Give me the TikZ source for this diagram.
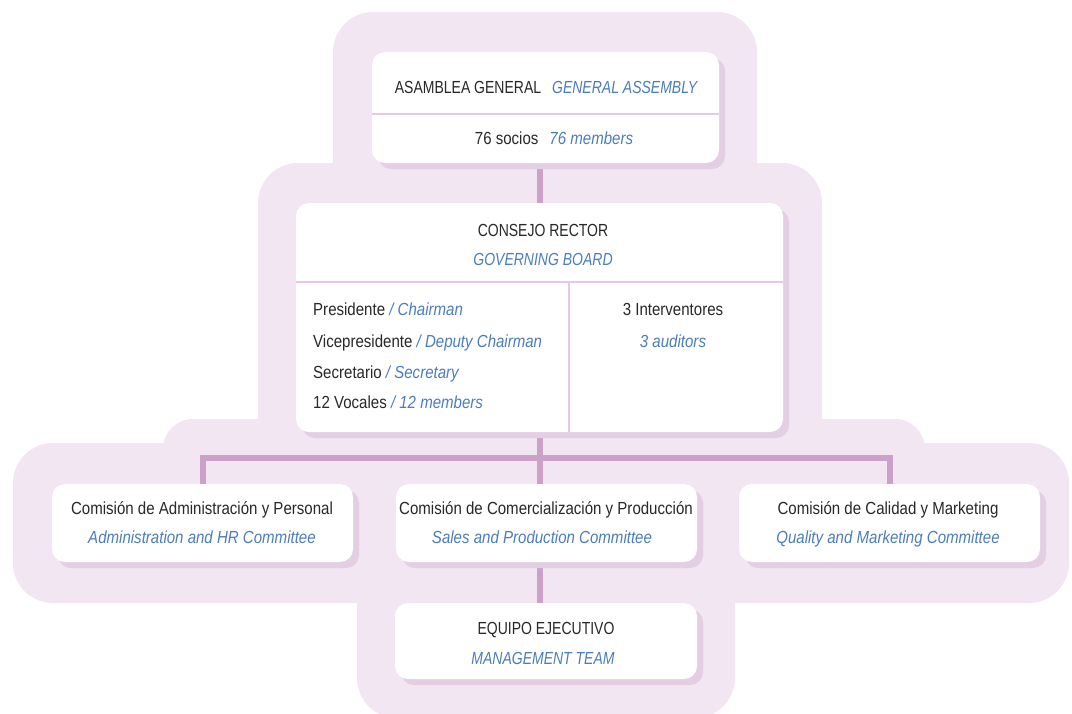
\documentclass[tikz,border=0pt]{standalone}
\usepackage{fontspec}
\setmainfont{Liberation Sans}[FakeStretch=0.86]
\newfontfamily\capsface{Liberation Sans}[FakeStretch=0.8]
\usetikzlibrary{shadows}

\definecolor{blobc}{RGB}{241,230,241}
\definecolor{linkc}{RGB}{205,160,200}
\definecolor{shadec}{RGB}{227,206,228}
\definecolor{rulec}{RGB}{232,200,228}
\definecolor{inkc}{RGB}{40,40,40}
\definecolor{enc}{RGB}{75,125,190}

\pgfdeclarelayer{blobs}
\pgfdeclarelayer{links}
\pgfsetlayers{blobs,links,main}

\tikzset{
  blob/.style={fill=blobc, draw=none, rounded corners=40pt},
  card/.style={fill=white, draw=none, rounded corners=13pt, inner sep=0pt,
    drop shadow={shadow xshift=6pt, shadow yshift=-6pt, fill=shadec, opacity=1}},
  link/.style={draw=linkc, line width=6pt},
  rulel/.style={draw=rulec, line width=1.3pt},
  txt/.style={font=\fontsize{17.5}{29}\selectfont, text=inkc, inner sep=0pt, anchor=base},
  caps/.style={txt, font=\fontsize{17.5}{29}\capsface},
}
\newcommand\entxt[1]{{\color{enc}\itshape #1}}

\begin{document}
\begin{tikzpicture}[x=1pt,y=-1pt]
\useasboundingbox (0,0) rectangle (1072,713);

% cards
\node[card, minimum width=347pt, minimum height=111pt] (ga) at (545.5,107.5) {};
\node[card, minimum width=487pt, minimum height=229pt] (cr) at (539.5,317.5) {};
\node[card, minimum width=301pt, minimum height=78pt] (cl) at (202.5,523) {};
\node[card, minimum width=301pt, minimum height=78pt] (cm) at (546.5,523) {};
\node[card, minimum width=301pt, minimum height=78pt] (cq) at (889.5,523) {};
\node[card, minimum width=302pt, minimum height=76pt] (ee) at (546,641) {};

% lavender backdrop
\begin{pgfonlayer}{blobs}
  \fill[blob] (333,12) rectangle (757,250);
  \fill[blob] (258,163) rectangle (822,500);
  \fill[blob, rounded corners=30pt] (163,419) rectangle (925,520);
  \fill[blob] (13,443) rectangle (1069,603);
  \fill[blob] (357,520) rectangle (735,718);
\end{pgfonlayer}

% connectors
\begin{pgfonlayer}{links}
  \coordinate (bus) at (cr.south |- 0,458);
  \draw[link] (ga.south -| cr.north) -- (cr.north);
  \draw[link] (cr.south) -- (cm.north -| cr.south);
  \draw[link] (cl.north) |- (bus) -| (cq.north);
  \draw[link] (cm.south -| cr.south) -- (ee.north -| cr.south);
\end{pgfonlayer}

% General assembly
\draw[rulel] (ga.west |- 0,114) -- (ga.east |- 0,114);
\node[caps] (gat) at (546,93) {ASAMBLEA GENERAL\hspace{11pt}\entxt{GENERAL ASSEMBLY}};
\node[txt] (gam) at (554,144) {76 socios\hspace{11pt}\entxt{76 members}};

% Governing board
\coordinate (split) at (569,282);
\draw[rulel] (cr.west |- split) -- (cr.east |- split);
\draw[rulel] (split) -- (split |- cr.south);
\node[caps] (crt) at (543,236) {CONSEJO RECTOR};
\node[caps] (cre) at (543,265) {\entxt{GOVERNING BOARD}};
\node[txt, anchor=base west] (cr1) at (313,315) {Presidente \entxt{/ Chairman}};
\node[txt, anchor=base west] (cr2) at (313,347) {Vicepresidente \entxt{/ Deputy Chairman}};
\node[txt, anchor=base west] (cr3) at (313,378) {Secretario \entxt{/ Secretary}};
\node[txt, anchor=base west] (cr4) at (313,408) {12 Vocales \entxt{/ 12 members}};
\node[txt] (cra) at (673,315) {3 Interventores};
\node[txt] (crb) at (673,347) {\entxt{3 auditors}};

% Committees
\node[txt] (cl1) at (202,514) {Comisión de Administración y Personal};
\node[txt] (cl2) at (202,543) {\entxt{Administration and HR Committee}};
\node[txt] (cm1) at (546,514) {Comisión de Comercialización y Producción};
\node[txt] (cm2) at (542,543) {\entxt{Sales and Production Committee}};
\node[txt] (cq1) at (888,514) {Comisión de Calidad y Marketing};
\node[txt] (cq2) at (888,543) {\entxt{Quality and Marketing Committee}};

% Management team
\node[caps] (ee1) at (546,634) {EQUIPO EJECUTIVO};
\node[caps] (ee2) at (543,664) {\entxt{MANAGEMENT TEAM}};
\end{tikzpicture}
\end{document}
